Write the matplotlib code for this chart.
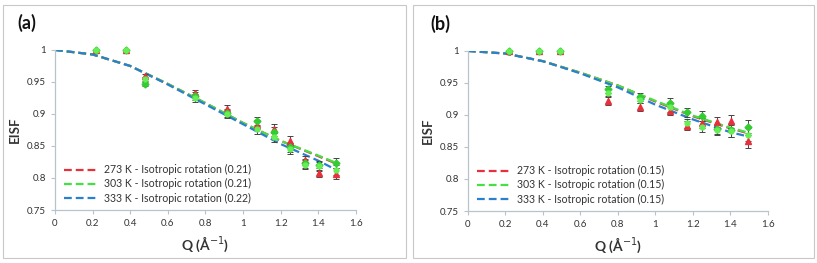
import numpy as np
import matplotlib
matplotlib.use("Agg")
import matplotlib.pyplot as plt
from matplotlib.patches import Rectangle

plt.rcParams['font.family'] = ['Lato', 'DejaVu Sans']

# ---- data, panel (a)
q_a = [0.22, 0.38, 0.48, 0.745, 0.915, 1.075, 1.165, 1.25, 1.33, 1.405, 1.495]
eisf_a_273 = [1.0, 1.0, 0.959, 0.932, 0.908, 0.883, 0.877, 0.858, 0.828, 0.808, 0.807]
eisf_a_303 = [1.0, 1.0, 0.947, 0.928, 0.902, 0.889, 0.872, 0.848, 0.823, 0.820, 0.824]
eisf_a_333 = [1.0, 1.0, 0.954, 0.925, 0.900, 0.876, 0.864, 0.845, 0.821, 0.818, 0.812]
err_a = [0.0, 0.0, 0.004, 0.006, 0.006, 0.007, 0.007, 0.007, 0.007, 0.007, 0.008]

qfit = [0.0, 0.2, 0.4, 0.6, 0.8, 1.0, 1.2, 1.4, 1.5]
fit_a_273 = [1.0, 0.993, 0.975, 0.947, 0.917, 0.886, 0.858, 0.834, 0.822]
fit_a_303 = [1.0, 0.993, 0.975, 0.947, 0.917, 0.886, 0.858, 0.835, 0.823]
fit_a_333 = [1.0, 0.993, 0.975, 0.946, 0.915, 0.884, 0.853, 0.827, 0.812]
labels_a = ["273 K - Isotropic rotation (0.21)",
            "303 K - Isotropic rotation (0.21)",
            "333 K - Isotropic rotation (0.22)"]

# ---- data, panel (b)
q_b = [0.22, 0.38, 0.49, 0.745, 0.915, 1.08, 1.17, 1.25, 1.33, 1.405, 1.495]
eisf_b_273 = [1.0, 1.0, 1.0, 0.922, 0.912, 0.907, 0.883, 0.888, 0.889, 0.890, 0.859]
eisf_b_303 = [1.0, 1.0, 1.0, 0.940, 0.928, 0.919, 0.904, 0.898, 0.878, 0.876, 0.882]
eisf_b_333 = [1.0, 1.0, 1.0, 0.935, 0.924, 0.912, 0.887, 0.882, 0.877, 0.875, 0.869]
err_b = [0.0, 0.0, 0.0, 0.006, 0.006, 0.007, 0.007, 0.008, 0.008, 0.010, 0.010]

fit_b_273 = [1.0, 0.996, 0.984, 0.966, 0.946, 0.921, 0.898, 0.879, 0.871]
fit_b_303 = [1.0, 0.996, 0.984, 0.966, 0.946, 0.922, 0.899, 0.880, 0.872]
fit_b_333 = [1.0, 0.996, 0.984, 0.965, 0.943, 0.916, 0.893, 0.873, 0.866]
labels_b = ["273 K - Isotropic rotation (0.15)",
            "303 K - Isotropic rotation (0.15)",
            "333 K - Isotropic rotation (0.15)"]

red, green, blue = '#e8303c', '#44e044', '#2b7fcf'
axcol = '#b8c4cc'
txtcol = '#333333'

fig = plt.figure(figsize=(8.17, 2.63), dpi=100)

# gray frames around each panel
for x0, w in [(3, 403), (413, 401)]:
    fig.patches.append(Rectangle((x0 / 817, 5 / 263), w / 817, 253 / 263,
                                 transform=fig.transFigure, fill=False,
                                 edgecolor='#c8c8c8', lw=0.8))


def panel(rect, tag, q, data, err, fits, labels):
    ax = fig.add_axes(rect)
    for y, fit, c, lab in zip(data, fits, [red, green, blue], labels):
        ax.plot(qfit, fit, '--', color=c, lw=1.6, dashes=(3.5, 1.8), label=lab, zorder=2)
    mk = [('^', red, 4.5), ('D', '#33cc33', 3.5), ('o', '#66ee55', 3.5)]
    for y, (m, c, s) in zip(data, mk):
        ax.errorbar(q, y, yerr=err, fmt=m, color=c, ms=s, ecolor='#444444',
                    elinewidth=0.7, capsize=2.2, capthick=0.7, zorder=3, clip_on=False)
    ax.set_xlim(0, 1.6)
    ax.set_ylim(0.75, 1.0)
    ax.set_xticks(np.arange(0, 1.61, 0.2))
    ax.set_xticklabels(['0', '0.2', '0.4', '0.6', '0.8', '1', '1.2', '1.4', '1.6'])
    ax.set_yticks([0.75, 0.8, 0.85, 0.9, 0.95, 1.0])
    ax.set_yticklabels(['0.75', '0.8', '0.85', '0.9', '0.95', '1'])
    for s in ['top', 'right']:
        ax.spines[s].set_visible(False)
    for s in ['left', 'bottom']:
        ax.spines[s].set_color(axcol)
        ax.spines[s].set_linewidth(0.9)
    ax.tick_params(colors=axcol, labelcolor=txtcol, labelsize=7, length=3, width=0.8)
    ax.set_xlabel('Q (Å$^{-1}$)', fontsize=10, fontweight='bold', color=txtcol, labelpad=5)
    ax.set_ylabel('EISF', fontsize=9.5, fontweight='bold', color=txtcol, labelpad=4)
    ax.text(-0.125, 1.17, tag, transform=ax.transAxes, fontsize=13,
            fontweight='bold', color='#111111', va='center')
    ax.legend(loc='lower left', bbox_to_anchor=(0.0, -0.02), frameon=False,
              fontsize=7.6, handlelength=3.2, handletextpad=0.5, labelspacing=0.3,
              labelcolor=txtcol)
    return ax


panel([0.0673, 0.2015, 0.3684, 0.6085], '(a)', q_a,
      [eisf_a_273, eisf_a_303, eisf_a_333], err_a,
      [fit_a_273, fit_a_303, fit_a_333], labels_a)
panel([0.5728, 0.1977, 0.3672, 0.6085], '(b)', q_b,
      [eisf_b_273, eisf_b_303, eisf_b_333], err_b,
      [fit_b_273, fit_b_303, fit_b_333], labels_b)

fig.savefig('out.png', dpi=100)
